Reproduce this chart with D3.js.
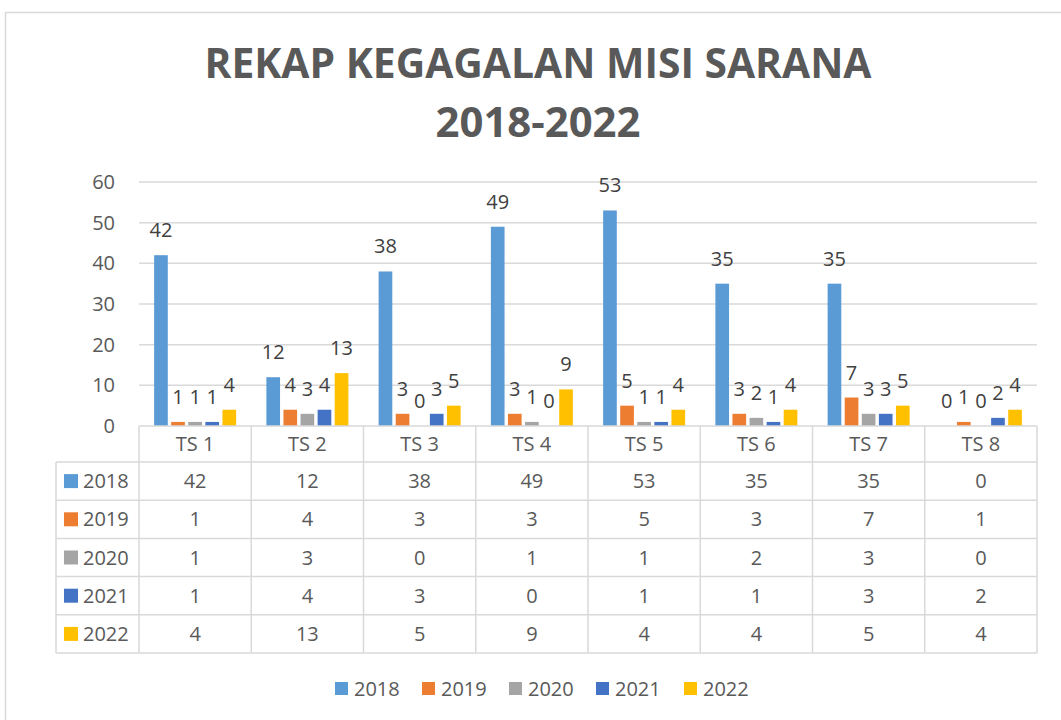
<!DOCTYPE html>
<html>
<head>
<meta charset="utf-8">
<script src="https://cdn.jsdelivr.net/npm/d3@7"></script>
<style>
html,body{margin:0;padding:0;background:#fff;}
svg{display:block;font-family:"Open Sans",sans-serif;}
</style>
</head>
<body>
<svg id="chart" width="1061" height="720"></svg>
<script>
const categories = ["TS 1","TS 2","TS 3","TS 4","TS 5","TS 6","TS 7","TS 8"];
const years = ["2018","2019","2020","2021","2022"];
const v2018 = [42,12,38,49,53,35,35,0];
const v2019 = [1,4,3,3,5,3,7,1];
const v2020 = [1,3,0,1,1,2,3,0];
const v2021 = [1,4,3,0,1,1,3,2];
const v2022 = [4,13,5,9,4,4,5,4];
const colors = ["#5B9BD5","#ED7D31","#A5A5A5","#4472C4","#FFC000"];
const yTicks = [0,10,20,30,40,50,60];
const titleLines = ["REKAP KEGAGALAN MISI SARANA","2018-2022"];

(function(){
const series = [v2018,v2019,v2020,v2021,v2022];
const svg = d3.select("#chart");
const gridColor = "#d9d9d9";
const textColor = "#595959";
const valColor = "#404040";

// outer border
svg.append("rect").attr("x",5.5).attr("y",12.5).attr("width",1200).attr("height",900)
  .attr("fill","none").attr("stroke",gridColor).attr("stroke-width",1.5);

// title
svg.append("text").attr("x",538).attr("y",78).attr("text-anchor","middle")
  .attr("font-size",41).attr("font-weight","bold").attr("fill",textColor)
  .attr("textLength",667).attr("lengthAdjust","spacingAndGlyphs").text(titleLines[0]);
svg.append("text").attr("x",538).attr("y",137).attr("text-anchor","middle")
  .attr("font-size",41).attr("font-weight","bold").attr("fill",textColor)
  .attr("textLength",205).attr("lengthAdjust","spacingAndGlyphs").text(titleLines[1]);

const pLeft = 139, pRight = 1037, pTop = 182, zeroY = 426;
const x0 = d3.scaleBand().domain(categories).range([pLeft,pRight]).paddingInner(0).paddingOuter(0);
const clusterW = 82;
const x1 = d3.scaleBand().domain(years).range([0,clusterW]).paddingInner(0.2);
const y = d3.scaleLinear().domain([0,60]).range([zeroY,pTop]);

// gridlines
svg.append("g").selectAll("line").data(yTicks.filter(t=>t>0)).join("line")
  .attr("x1",pLeft).attr("x2",pRight).attr("y1",d=>y(d)).attr("y2",d=>y(d))
  .attr("stroke",gridColor).attr("stroke-width",1.5);

// y axis labels
const yAxis = d3.axisLeft(y).tickValues(yTicks).tickSize(0).tickPadding(0);
const ya = svg.append("g").attr("transform","translate(115,0)").call(yAxis);
ya.select(".domain").remove();
ya.selectAll("text").attr("font-size",20).attr("fill",textColor).attr("font-family","Open Sans, sans-serif");

// bars
const data = [];
categories.forEach((c,i)=>years.forEach((yr,j)=>data.push({c,yr,j,v:series[j][i]})));
const off = (x0.bandwidth()-clusterW)/2;
svg.append("g").selectAll("rect").data(data).join("rect")
  .attr("x",d=>x0(d.c)+off+x1(d.yr)).attr("width",x1.bandwidth())
  .attr("y",d=>y(d.v)).attr("height",d=>zeroY-y(d.v))
  .attr("fill",d=>colors[d.j]);

// data labels
svg.append("g").selectAll("text").data(data).join("text")
  .attr("x",d=>x0(d.c)+off+x1(d.yr)+x1.bandwidth()/2)
  .attr("y",d=>y(d.v)-18).attr("text-anchor","middle")
  .attr("font-size",20).attr("fill",valColor).text(d=>d.v);

// data table
const headerH = 36, rowH = 38.2, tableLeft = 56;
const rowTop = zeroY + headerH;
const bottom = rowTop + rowH*years.length;
const tg = svg.append("g");
tg.append("line").attr("x1",pLeft).attr("x2",pRight).attr("y1",zeroY).attr("y2",zeroY).attr("stroke",gridColor).attr("stroke-width",1.5);
d3.range(years.length+1).forEach(k=>{
  const yy = rowTop + k*rowH;
  tg.append("line").attr("x1",tableLeft).attr("x2",pRight).attr("y1",yy).attr("y2",yy).attr("stroke",gridColor).attr("stroke-width",1.5);
});
tg.append("line").attr("x1",tableLeft).attr("x2",tableLeft).attr("y1",rowTop).attr("y2",bottom).attr("stroke",gridColor).attr("stroke-width",1.5);
d3.range(categories.length+1).forEach(i=>{
  const xx = pLeft + i*x0.bandwidth();
  tg.append("line").attr("x1",xx).attr("x2",xx).attr("y1",zeroY).attr("y2",bottom).attr("stroke",gridColor).attr("stroke-width",1.5);
});
tg.selectAll("text.cat").data(categories).join("text").attr("class","cat")
  .attr("x",d=>x0(d)+x0.bandwidth()/2).attr("y",zeroY+headerH/2).attr("dy","0.35em")
  .attr("text-anchor","middle").attr("font-size",20).attr("fill",textColor).text(d=>d);
years.forEach((yr,j)=>{
  const cy = rowTop + j*rowH + rowH/2;
  tg.append("rect").attr("x",64).attr("y",cy-7).attr("width",14).attr("height",14).attr("fill",colors[j]);
  tg.append("text").attr("x",83).attr("y",cy).attr("dy","0.35em").attr("font-size",20).attr("fill",textColor).text(yr);
  categories.forEach((c,i)=>{
    tg.append("text").attr("x",x0(c)+x0.bandwidth()/2).attr("y",cy).attr("dy","0.35em")
      .attr("text-anchor","middle").attr("font-size",20).attr("fill",textColor).text(series[j][i]);
  });
});

// legend
const lx = [335,422,509,596,684];
const lg = svg.append("g");
years.forEach((yr,j)=>{
  lg.append("rect").attr("x",lx[j]).attr("y",682).attr("width",13).attr("height",13).attr("fill",colors[j]);
  lg.append("text").attr("x",lx[j]+19).attr("y",688.5).attr("dy","0.35em").attr("font-size",20).attr("fill",textColor).text(yr);
});
})();
</script>
</body>
</html>
